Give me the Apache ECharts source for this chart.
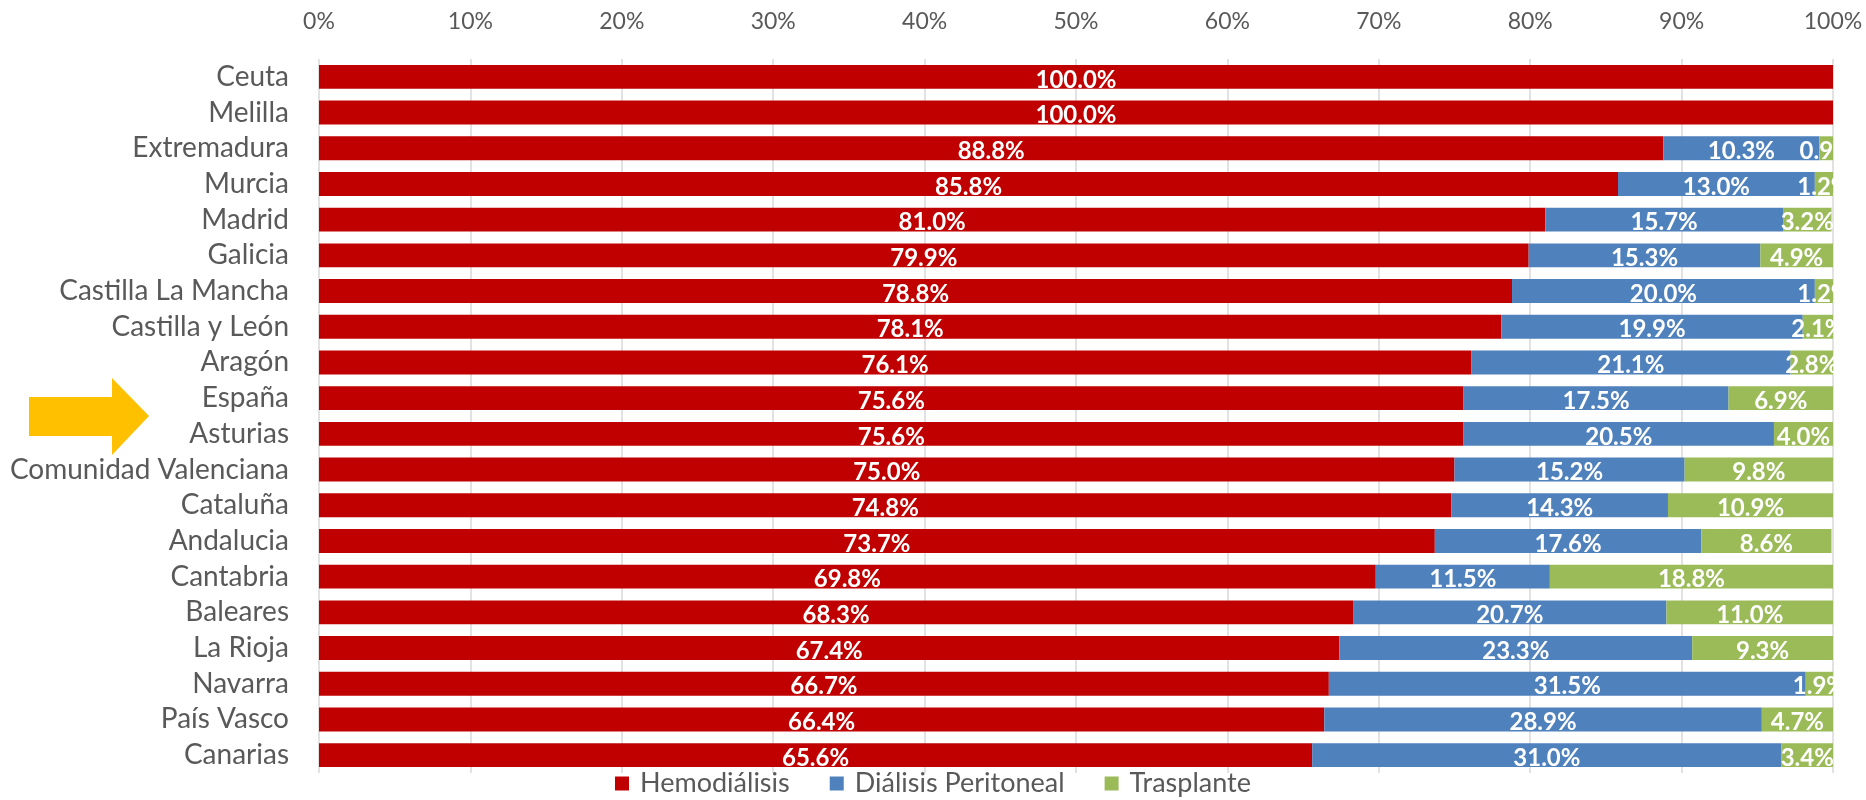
<!DOCTYPE html>
<html><head><meta charset="utf-8">
<script src="https://cdn.jsdelivr.net/npm/echarts@6/dist/echarts.min.js"></script>
<style>html,body{margin:0;padding:0;background:#fff}#c{width:1866px;height:800px}</style>
</head><body><div id="c"></div>
<script>
const categories = ["Ceuta","Melilla","Extremadura","Murcia","Madrid","Galicia","Castilla La Mancha","Castilla y León","Aragón","España","Asturias","Comunidad Valenciana","Cataluña","Andalucia","Cantabria","Baleares","La Rioja","Navarra","País Vasco","Canarias"];
const hemodialisis = [100.0,100.0,88.8,85.8,81.0,79.9,78.8,78.1,76.1,75.6,75.6,75.0,74.8,73.7,69.8,68.3,67.4,66.7,66.4,65.6];
const dialisisPeritoneal = [0,0,10.3,13.0,15.7,15.3,20.0,19.9,21.1,17.5,20.5,15.2,14.3,17.6,11.5,20.7,23.3,31.5,28.9,31.0];
const trasplante = [0,0,0.9,1.2,3.2,4.9,1.2,2.1,2.8,6.9,4.0,9.8,10.9,8.6,18.8,11.0,9.3,1.9,4.7,3.4];
const xTicks = [0,10,20,30,40,50,60,70,80,90,100];
const highlighted = "España";

const FONT = 'Lato';
const chart = echarts.init(document.getElementById('c'), null, {renderer:'canvas'});
const lbl = {
  show:true, position:'inside', color:'#fff', fontFamily:FONT, fontWeight:'bold', fontSize:24,
  offset:[0,3],
  formatter: p => p.value > 0 ? p.value.toFixed(1) + '%' : ''
};
function mk(name, data, color){
  return {name, type:'bar', stack:'t', data, barCategoryGap:'33%',
    itemStyle:{color}, label:lbl, emphasis:{disabled:true}};
}
chart.setOption({
  animation:false,
  textStyle:{fontFamily:FONT},
  grid:{left:319, right:33, top:59, bottom:27, containLabel:false},
  legend:{bottom:-2, left:'center', icon:'rect', itemWidth:14, itemHeight:14, itemGap:40,
    textStyle:{fontFamily:FONT, fontSize:27, color:'#595959', padding:[0,0,0,6]},
    data:['Hemodiálisis','Diálisis Peritoneal','Trasplante']},
  xAxis:{type:'value', position:'top', min:0, max:100, interval:10,
    axisLabel:{formatter: v => xTicks.includes(v) ? v + '%' : '', fontSize:23, color:'#595959', fontFamily:FONT, margin:26},
    axisLine:{show:false}, axisTick:{show:false},
    splitLine:{lineStyle:{color:'#D9D9D9', width:1.5}}},
  yAxis:{type:'category', inverse:true, data:categories,
    axisLabel:{interval:0, fontSize:28, lineHeight:30, color:'#595959', fontFamily:FONT, margin:30},
    axisLine:{show:false}, axisTick:{show:false}},
  series:[
    mk('Hemodiálisis', hemodialisis, '#C00000'),
    mk('Diálisis Peritoneal', dialisisPeritoneal, '#4F81BD'),
    mk('Trasplante', trasplante, '#9BBB59')
  ]
});
// arrow annotation pointing between España and the next row
const idx = categories.indexOf(highlighted);
const y1 = chart.convertToPixel({yAxisIndex:0}, categories[idx]);
const y2 = chart.convertToPixel({yAxisIndex:0}, categories[idx+1]);
const cy = (y1 + y2) / 2;
chart.setOption({graphic:[{
  type:'polygon', z:100,
  shape:{points:[[29,cy-19],[112,cy-19],[112,cy-38],[149,cy],[112,cy+39],[112,cy+20],[29,cy+20]]},
  style:{fill:'#FFC000'}
}]});
</script></body></html>
